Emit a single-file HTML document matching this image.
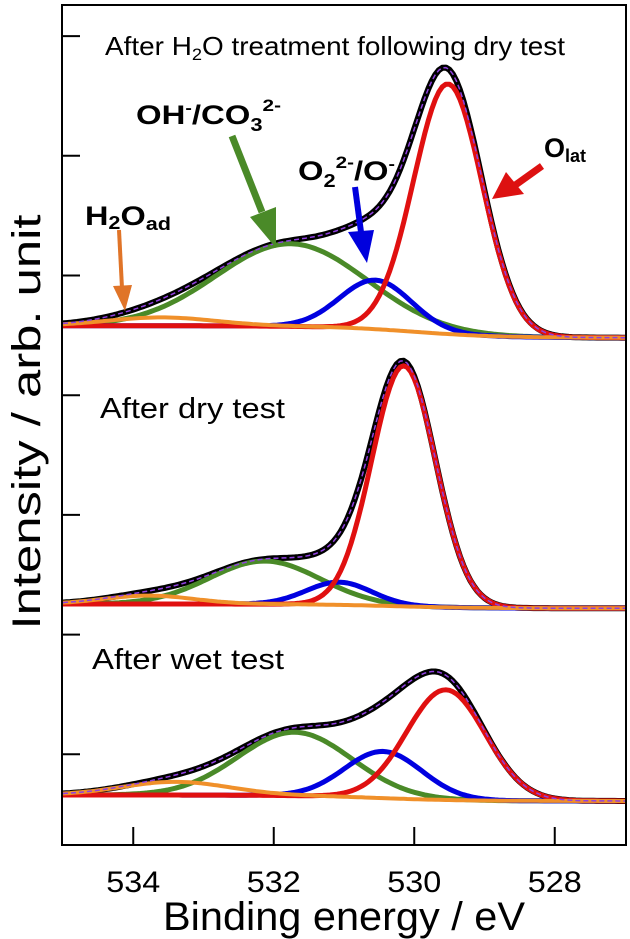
<!DOCTYPE html>
<html><head><meta charset="utf-8"><style>
html,body{margin:0;padding:0;background:#fff;}
svg{display:block;font-family:"Liberation Sans",Arial,sans-serif;}
</style></head><body>
<svg id="chart" width="630" height="939" viewBox="0 0 630 939">
  <g id="series"></g>
  <rect x="62" y="5" width="564" height="840" fill="none" stroke="#000" stroke-width="2"/>
  <g id="axes"></g>
  <text x="40" y="422" font-size="40" text-anchor="middle" transform="rotate(-90 40 422)" textLength="415" lengthAdjust="spacingAndGlyphs">Intensity / arb. unit</text>
  <text x="163" y="930" font-size="40" textLength="362" lengthAdjust="spacingAndGlyphs">Binding energy / eV</text>
  <text x="105" y="55" font-size="26" textLength="460" lengthAdjust="spacingAndGlyphs">After H<tspan font-size="17" dy="5">2</tspan><tspan dy="-5">O treatment following dry test</tspan></text>
  <text x="100" y="418" font-size="29" textLength="185" lengthAdjust="spacingAndGlyphs">After dry test</text>
  <text x="92" y="669" font-size="29" textLength="192" lengthAdjust="spacingAndGlyphs">After wet test</text>
  <text x="136" y="124" font-size="27" font-weight="bold" textLength="145" lengthAdjust="spacingAndGlyphs">OH<tspan font-size="16" dy="-11">-</tspan><tspan dy="11">/CO</tspan><tspan font-size="18" dy="7">3</tspan><tspan font-size="17" dy="-20">2-</tspan></text>
  <text x="298" y="180" font-size="27" font-weight="bold" textLength="97" lengthAdjust="spacingAndGlyphs">O<tspan font-size="18" dy="7">2</tspan><tspan font-size="17" dy="-19">2-</tspan><tspan dy="12">/O</tspan><tspan font-size="16" dy="-11">-</tspan></text>
  <text x="544" y="157" font-size="27" font-weight="bold">O<tspan font-size="18" dy="5">lat</tspan></text>
  <text x="85" y="225" font-size="27" font-weight="bold" textLength="86" lengthAdjust="spacingAndGlyphs">H<tspan font-size="18" dy="4">2</tspan><tspan dy="-4">O</tspan><tspan font-size="18" dy="5">ad</tspan></text>
  <g><line x1="232" y1="136" x2="262" y2="212" stroke="#4a8a28" stroke-width="7"/><polygon points="250,217 276,207 276,248" fill="#4a8a28"/></g>
  <g><line x1="355" y1="187" x2="361" y2="232" stroke="#0000dd" stroke-width="6"/><polygon points="348,232 374,230 367,263" fill="#0000dd"/></g>
  <g><line x1="542" y1="166" x2="514" y2="186" stroke="#dd1111" stroke-width="7"/><polygon points="506,172 524,194 492,199" fill="#dd1111"/></g>
  <g><line x1="119" y1="230" x2="122" y2="288" stroke="#e07428" stroke-width="4"/><polygon points="113,286 132,285 125,311" fill="#e07428"/></g>
</svg>
<script>
// x axis data
const xTicks = [534, 532, 530, 528];
const xMin = 535, xMax = 527;
const yTickValues = [1, 2, 3, 4, 5, 6, 7];
// panels (top, middle, bottom)
const panelNames = ['h2o-treatment', 'dry', 'wet'];
const bgLeft = [4.58, 2.256, 0.66];
const bgRight = [4.48, 2.22, 0.61];
const bgCenter = [530.0, 530.3, 530.5];
// component centers (eV)
const olatCenter = [529.52, 530.15, 529.55];
const o2Center = [530.55, 531.07, 530.44];
const ohCenter = [531.76, 532.13, 531.7];
const h2oCenter = [533.6, 533.78, 533.4];
// component amplitudes (arb.)
const olatAmp = [2.09, 2.01, 0.92];
const o2Amp = [0.41, 0.19, 0.39];
const ohAmp = [0.69, 0.36, 0.53];
const h2oAmp = [0.07, 0.07, 0.11];
// component FWHM (eV)
const olatFwhm = [1.15, 1.07, 1.32];
const o2Fwhm = [1.2, 1.1, 1.3];
const ohFwhm = [2.5, 1.84, 1.9];
const h2oFwhm = [1.8, 1.5, 1.8];

const NS = 'http://www.w3.org/2000/svg';
const xs = e => 63 + (xMin - e) / (xMin - xMax) * 562;
const ys = v => 874 - v * 119.7;
const gauss = (e, c, a, w) => a * Math.exp(-4 * Math.LN2 * Math.pow((e - c) / w, 2));

const axes = document.getElementById('axes');
xTicks.forEach(t => {
  const l = document.createElementNS(NS, 'line');
  l.setAttribute('x1', xs(t)); l.setAttribute('x2', xs(t));
  l.setAttribute('y1', 845); l.setAttribute('y2', 827);
  l.setAttribute('stroke', '#000'); l.setAttribute('stroke-width', 2);
  
  
  axes.appendChild(l);
  const tx = document.createElementNS(NS, 'text');
  tx.setAttribute('x', xs(t) - 27); tx.setAttribute('y', 892);
  tx.setAttribute('font-size', 30);
  tx.setAttribute('textLength', 54); tx.setAttribute('lengthAdjust', 'spacingAndGlyphs');
  tx.textContent = t;
  
  
  axes.appendChild(tx);
});
yTickValues.forEach(v => {
  const l = document.createElementNS(NS, 'line');
  l.setAttribute('x1', 62); l.setAttribute('x2', 80);
  l.setAttribute('y1', ys(v)); l.setAttribute('y2', ys(v));
  l.setAttribute('stroke', '#000'); l.setAttribute('stroke-width', 2);
  
  
  axes.appendChild(l);
});

const g = document.getElementById('series');
function addPath(pts, color, w, name, dash) {
  const p = document.createElementNS(NS, 'path');
  p.setAttribute('d', 'M' + pts.map(q => q[0].toFixed(1) + ',' + q[1].toFixed(1)).join('L'));
  p.setAttribute('fill', 'none'); p.setAttribute('stroke', color);
  p.setAttribute('stroke-width', w); p.setAttribute('stroke-linejoin', 'round');
  if (dash) p.setAttribute('stroke-dasharray', dash);
  
  
  g.appendChild(p);
}
for (let i = 0; i < 3; i++) {
  const bg = e => bgRight[i] + (bgLeft[i] - bgRight[i]) / (1 + Math.exp(-(e - bgCenter[i]) / 0.6));
  const comps = [
    [olatCenter[i], olatAmp[i], olatFwhm[i]],
    [o2Center[i], o2Amp[i], o2Fwhm[i]],
    [ohCenter[i], ohAmp[i], ohFwhm[i]],
    [h2oCenter[i], h2oAmp[i], h2oFwhm[i]]
  ];
  const E = [];
  for (let e = xMin; e >= xMax - 1e-9; e -= 0.05) E.push(e);
  const sum = E.map(e => [xs(e), ys(bg(e) + comps.reduce((s, c) => s + gauss(e, c[0], c[1], c[2]), 0))]);
  addPath(sum, '#000', 6, 'measured-' + panelNames[i]);
  const cols = ['#e01010', '#0000e0', '#4a8a28', '#f0902a'];
  const names = ['olat', 'o2-o', 'oh-co3', 'h2o-ad'];
  [2, 1, 0].forEach(k => {
    const c = comps[k];
    addPath(E.map(e => [xs(e), ys(bg(e) + gauss(e, c[0], c[1], c[2]))]), cols[k], 5, names[k] + '-' + panelNames[i]);
  });
  const c = comps[3];
  addPath(E.map(e => [xs(e), ys(bg(e) + gauss(e, c[0], c[1], c[2]))]), cols[3], 4, 'h2o-ad-background-' + panelNames[i]);
  addPath(sum, '#9040e0', 1.5, 'envelope-fit-' + panelNames[i], '5,3');
}
</script>
</body></html>
